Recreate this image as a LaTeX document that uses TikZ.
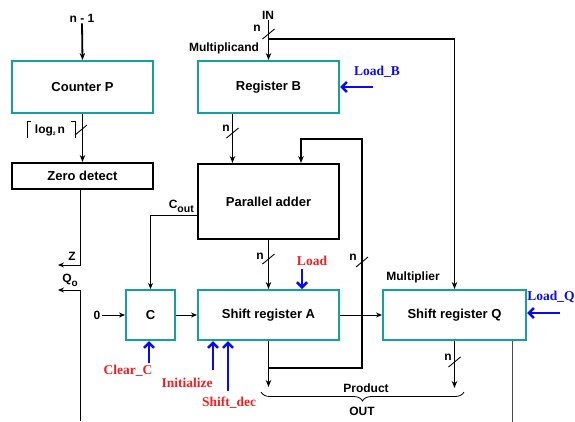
\documentclass[tikz,border=0pt]{standalone}
\usepackage{fontspec}
\setsansfont{Liberation Sans}
\newfontfamily\ctlfont{Liberation Serif}
\usepackage{tikz}
\usetikzlibrary{arrows.meta,positioning,decorations.pathreplacing,calc}
\definecolor{rborder}{HTML}{14A09C}
\definecolor{cblue}{HTML}{0A0AF0}
\definecolor{cred}{HTML}{F02020}
\tikzset{
  reg/.style={draw=rborder, line width=2pt, minimum width=141pt, minimum height=52pt,
              font=\sffamily\bfseries\fontsize{13}{15}\selectfont, inner sep=0pt},
  blk/.style={reg, draw=black},
  dat/.style={-{Stealth[length=7pt,width=5.5pt]}, line width=1.8pt},
  wire/.style={-{Stealth[length=6pt,width=5pt]}, line width=0.9pt},
  ctl/.style={-{Straight Barb[length=5pt,width=10pt]}, draw=cblue, line width=2.6pt},
  lbl/.style={font=\sffamily\bfseries\fontsize{12}{14}\selectfont, inner sep=1pt},
  clbl/.style={font=\ctlfont\bfseries\fontsize{13.5}{15}\selectfont, inner sep=1pt},
  bus/.style={line width=0.9pt},
}
\newcommand{\busmark}[1]{\draw[bus] ($#1+(-6,-5)$) -- ++(12,10);}

\begin{document}
\begin{tikzpicture}[x=1pt, y=1pt, node distance=49pt and 43pt]
  \useasboundingbox (0,0) rectangle (575,-421);
  % registers
  \node[reg] (cntp) at (82.5,-87) {Counter P};
  \node[reg, right=of cntp] (regb) {Register B};
  \node[blk, minimum height=26pt, below=48pt of cntp] (zdet) {Zero detect};
  \node[blk, minimum height=75pt, below=of regb] (padd) {Parallel adder};
  \node[reg, minimum height=50pt, below=of padd] (sra) {Shift register A};
  \node[reg, minimum height=50pt, minimum width=143pt, right=42pt of sra] (srq) {Shift register Q};
  \node[reg, minimum height=50pt, minimum width=49pt, left=21pt of sra] (cbit) {C};

  % labels
  \node[lbl] (nm1) at (82,-18) {n - 1};
  \node[lbl] (in) at (268,-15) {IN};
  \node[lbl] (mcand) at (224,-48) {Multiplicand};
  \node[lbl] (mplier) at (413,-277) {Multiplier};
  \node[lbl] (logn) at (50,-130) {log\raisebox{-2pt}{\fontsize{5}{5}\selectfont 2}\,n};
  \draw[bus] ($(logn)+(-23,-8)$) |- ($(logn)+(-19,9)$);
  \draw[bus] ($(logn)+(25,-8)$) |- ($(logn)+(21,9)$);
  \node[lbl] (zlbl) at (72,-256) {Z};
  \node[lbl] (qlbl) at (70,-280) {Q\raisebox{-4pt}{\fontsize{10}{10}\selectfont o}};
  \node[lbl] (zero) at (97,-315) {0};
  \node[lbl, anchor=south east] (cout) at ($(padd.west)+(-2,-12)$) {C\raisebox{-4pt}{\fontsize{10.5}{11}\selectfont out}};
  \node[lbl] (prod) at (366,-388) {Product};
  \node[lbl] (outl) at (362,-411) {OUT};
  \node[lbl] (n1) at (257,-28) {n};
  \node[lbl] (n2) at (226,-128) {n};
  \node[lbl] (n3) at (260,-256) {n};
  \node[lbl] (n4) at (353,-257) {n};
  \node[lbl] (n5) at (448,-357) {n};
  \node[clbl, text=cblue] (ldbl) at (377,-72) {Load\_B};
  \node[clbl, text=cblue] (ldql) at (551,-297) {Load\_Q};
  \node[clbl, text=cred] (ldal) at (312,-261) {Load};
  \node[clbl, text=cred] (clcl) at (128,-371) {Clear\_C};
  \node[clbl, text=cred] (inil) at (187,-383) {Initialize};
  \node[clbl, text=cred] (shdl) at (229,-403) {Shift\_dec};

  % free ends
  \coordinate (inj) at ($(regb.north)+(0,21)$);
  \coordinate (fbj) at ($(sra.south)+(0,-27)$);
  \coordinate (fbx) at (362,-139);
  \coordinate (aout) at ($(sra.south)+(0,-46)$);
  \coordinate (qout) at ($(srq.south)+(0,-47)$);
  \coordinate (zend) at (58,-265);
  \coordinate (qbot) at (80,-421);
  \coordinate (qend) at (58,-290);
  \coordinate (brr) at (464,-392);
  \coordinate (brl) at (261,-392);
  \coordinate (ldb) at (373,-87);
  \coordinate (ldq) at (560,-313);
  \coordinate (lda) at (302,-269);
  \coordinate (clc) at (149,-363);
  \coordinate (ini) at (213,-370);
  \coordinate (shd) at (228,-391);

  % data paths
  \draw[dat] (nm1.south) -- (cntp.north);
  \draw[dat] (cntp.south) -- (zdet.north);
  \busmark{(81,-130)}
  \draw[dat] (in.south -| regb.north) -- (regb.north);
  \draw[dat] (inj) -| (srq.north);
  \busmark{(268.5,-34)}
  \draw[dat] ($(regb.south)+(-36,0)$) -- ($(padd.north)+(-36,0)$);
  \busmark{(232.5,-133)}
  \draw[dat] (padd.south) -- (sra.north);
  \busmark{(268.5,-259)}
  \draw[dat] (fbj) -| (fbx) -| ($(padd.north)+(32.5,0)$);
  \busmark{(362,-262)}
  \draw[dat] (sra.south) -- (aout);
  \draw[dat] (srq.south) -- (qout);
  \busmark{(454.5,-362)}
  \draw[wire] (zero) -- (cbit.west);
  \draw[wire] (cbit.east) -- (sra.west);
  \draw[wire] (sra.east) -- (srq.west);
  \draw[wire] ($(padd.west)+(0,-13.5)$) -| (cbit.north);
  \draw[wire] ($(zdet.south)+(-2.5,0)$) |- (zend);
  \draw[wire] (qbot) |- (qend);
  \draw[line width=0.9pt, black!70] ($(srq.south)+(57.5,0)$) -- ++(0,-82);
  \draw[decorate, decoration={brace, amplitude=9pt}, line width=0.8pt] (brr) -- (brl);

  % control signals
  \draw[ctl] (ldb) -- (regb.east);
  \draw[ctl] (ldq) -- (ldq -| srq.east);
  \draw[ctl] (lda) -- (lda |- sra.north);
  \draw[ctl] (clc) -- (clc |- cbit.south);
  \draw[ctl] (ini) -- (ini |- sra.south);
  \draw[ctl] (shd) -- (shd |- sra.south);
\end{tikzpicture}
\end{document}
